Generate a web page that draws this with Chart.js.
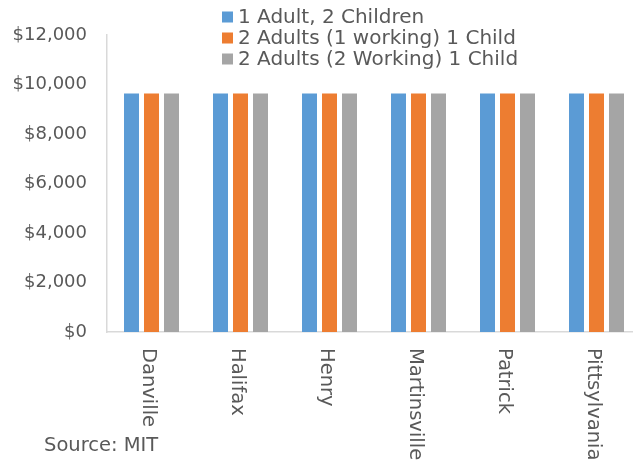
<!DOCTYPE html>
<html>
<head>
<meta charset="utf-8">
<script src="https://cdn.jsdelivr.net/npm/chart.js@4"></script>
<style>
html,body{margin:0;padding:0;overflow:hidden;background:#fff;}
#wrap{width:645px;height:460px;position:relative;}
</style>
</head>
<body>
<div id="wrap"><canvas id="c" width="645" height="460"></canvas></div>
<script>
const categories = ["Danville", "Halifax", "Henry", "Martinsville", "Patrick", "Pittsylvania"];
const seriesNames = ["1 Adult, 2 Children", "2 Adults (1 working) 1 Child", "2 Adults (2 Working) 1 Child"];
const oneAdultTwoChildren = [9640, 9640, 9640, 9640, 9640, 9640];
const twoAdultsOneWorking = [9640, 9640, 9640, 9640, 9640, 9640];
const twoAdultsTwoWorking = [9640, 9640, 9640, 9640, 9640, 9640];
const yTicks = [0, 2000, 4000, 6000, 8000, 10000, 12000];
const sourceNote = "Source: MIT";

const colors = ["#5B9BD5", "#ED7D31", "#A5A5A5"];
const textColor = "#595959";
const FONT = "'DejaVu Sans', sans-serif";

const overlay = {
  id: 'overlay',
  afterDraw(chart) {
    const ctx = chart.ctx;
    const xs = chart.scales.x;
    ctx.save();
    ctx.fillStyle = textColor;
    // rotated category labels
    ctx.font = "19.5px " + FONT;
    ctx.textAlign = 'left';
    ctx.textBaseline = 'middle';
    categories.forEach((c, i) => {
      const px = xs.getPixelForValue(i) - 3;
      ctx.save();
      ctx.translate(px, 348);
      ctx.rotate(Math.PI / 2);
      ctx.fillText(c, 0, 0);
      ctx.restore();
    });
    // legend
    ctx.font = "20px " + FONT;
    chart.data.datasets.forEach((ds, i) => {
      const cy = 17 + i * 21;
      ctx.fillStyle = ds.backgroundColor;
      ctx.fillRect(222, cy - 5.5, 11, 11);
      ctx.fillStyle = textColor;
      ctx.fillText(ds.label, 238, cy + 1);
    });
    // source
    ctx.textBaseline = 'alphabetic';
    ctx.font = "19.5px " + FONT;
    ctx.fillText(sourceNote, 44, 451);
    ctx.restore();
  }
};

new Chart(document.getElementById('c'), {
  type: 'bar',
  data: {
    labels: categories,
    datasets: [
      { label: seriesNames[0], data: oneAdultTwoChildren, backgroundColor: colors[0] },
      { label: seriesNames[1], data: twoAdultsOneWorking, backgroundColor: colors[1] },
      { label: seriesNames[2], data: twoAdultsTwoWorking, backgroundColor: colors[2] }
    ]
  },
  options: {
    responsive: false,
    animation: false,
    events: [],
    categoryPercentage: 0.674,
    barPercentage: 0.75,
    layout: { padding: { top: 35, right: 4, left: 0, bottom: 0 } },
    plugins: { legend: { display: false }, tooltip: { enabled: false }, title: { display: false } },
    scales: {
      x: {
        grid: { display: false, drawTicks: false },
        border: { display: true, color: '#D9D9D9', width: 1.5 },
        ticks: { display: false },
        afterFit(s) { s.height = 128; }
      },
      y: {
        min: 0, max: 12000,
        afterBuildTicks(s) { s.ticks = yTicks.map(v => ({ value: v })); },
        grid: { display: false, drawTicks: false },
        border: { display: true, color: '#D9D9D9', width: 1.5 },
        ticks: {
          color: textColor,
          font: { family: "'DejaVu Sans', sans-serif", size: 18 },
          padding: 20,
          callback: v => '$' + v.toLocaleString('en-US')
        },
        afterFit(s) { s.width = 107; }
      }
    }
  },
  plugins: [overlay]
});
</script>
</body>
</html>
